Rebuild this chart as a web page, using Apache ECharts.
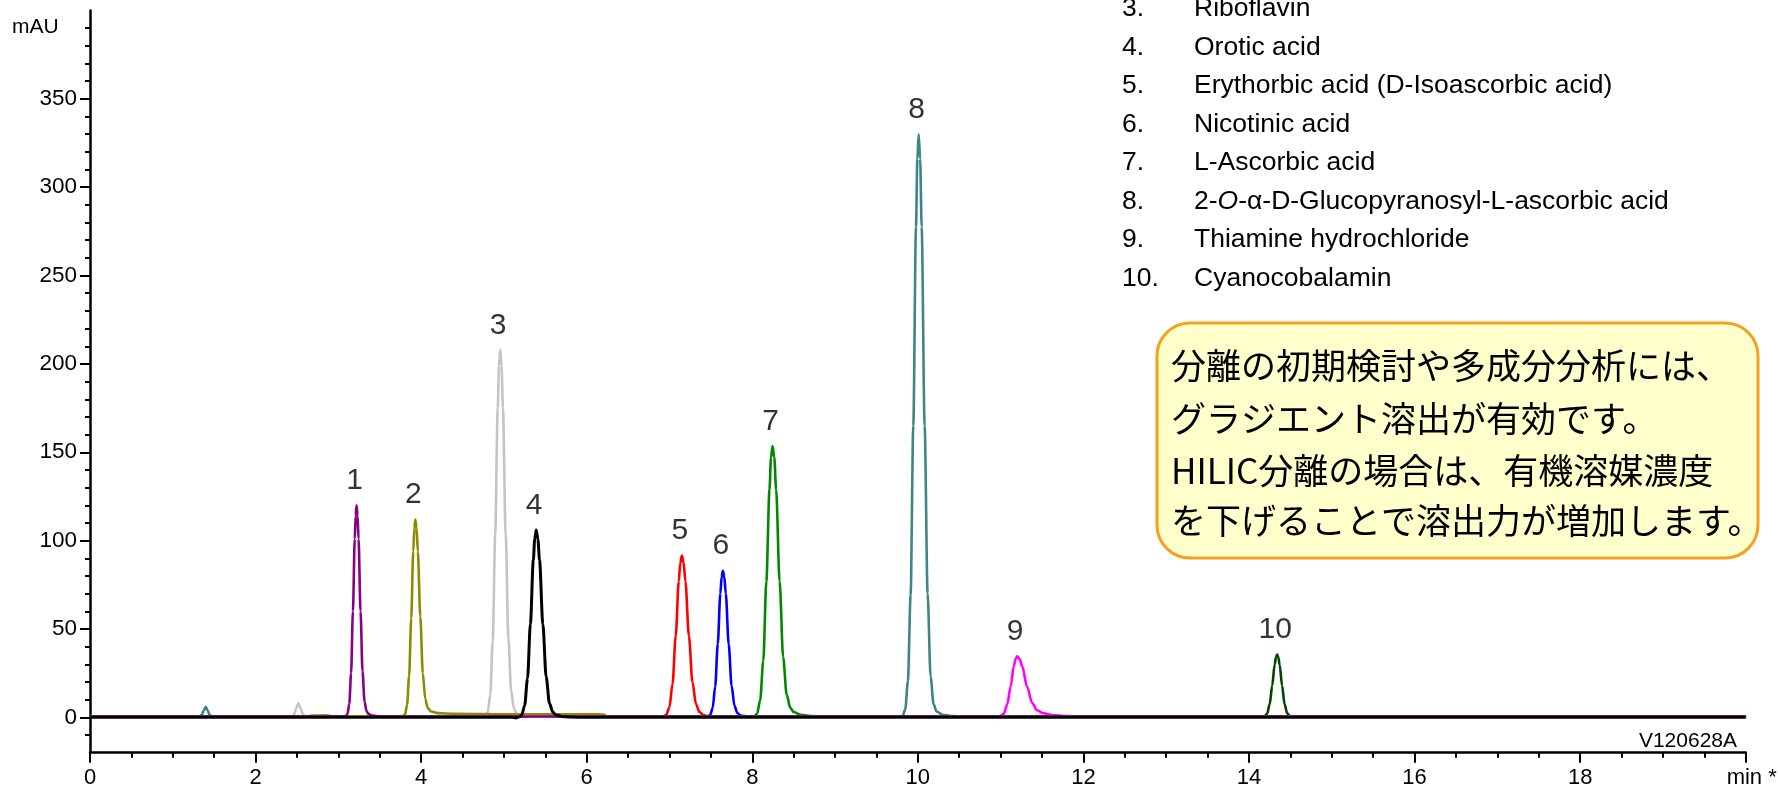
<!DOCTYPE html>
<html><head><meta charset="utf-8">
<script src="https://cdn.jsdelivr.net/npm/echarts@6/dist/echarts.min.js"></script>
<style>html,body{margin:0;padding:0;background:#fff}#c{width:1778px;height:785px}</style>
</head><body><div id="c"></div>
<script>
// ---------- data ----------
const xTicks = [0, 2, 4, 6, 8, 10, 12, 14, 16, 18, 20];
const yTickLabels = [0, 50, 100, 150, 200, 250, 300, 350];
const yMinorTicks = [-10, 10, 20, 30, 40, 60, 70, 80, 90, 110, 120, 130, 140, 160, 170, 180, 190, 210, 220, 230, 240, 260, 270, 280, 290, 310, 320, 330, 340, 360, 370, 380, 390];
const peakNumbers = ['1', '2', '3', '4', '5', '6', '7', '8', '9', '10'];
const peakTimes = [3.22, 3.93, 4.955, 5.39, 7.15, 7.645, 8.245, 10.01, 11.2, 14.34];
const peakHeights = [120, 112, 208, 106, 91.5, 83, 153.5, 330, 34.5, 35.5];
const compoundNumbers = ['3.', '4.', '5.', '6.', '7.', '8.', '9.', '10.'];
const compoundNames = ['Riboflavin', 'Orotic acid', 'Erythorbic acid (D-Isoascorbic acid)', 'Nicotinic acid', 'L-Ascorbic acid', '2-{i|O}-α-D-Glucopyranosyl-L-ascorbic acid', 'Thiamine hydrochloride', 'Cyanocobalamin'];
const noteLines = ['分離の初期検討や多成分分析には、', 'グラジエント溶出が有効です。', 'HILIC分離の場合は、有機溶媒濃度', 'を下げることで溶出力が増加します。'];
const sampleId = 'V120628A';

const trace1 = [[0,0.4],[3.066,0.4],[3.088,0.7],[3.11,1.9],[3.132,7.5],[3.154,25],[3.176,60],[3.198,101],[3.209,114],[3.22,120],[3.232,114],[3.244,101],[3.268,60],[3.292,26],[3.316,9],[3.34,3.6],[3.364,1.9],[3.412,1],[3.51,0.5],[20,0.4]];
const trace2 = [[0,0.4],[2.6,0.4],[2.7,1],[2.85,1.1],[2.95,0.5],[3.7,0.5],[3.78,0.8],[3.805,1.6],[3.83,7],[3.855,23.5],[3.88,56],[3.905,94],[3.9175,107],[3.93,112],[3.945,107],[3.96,94],[3.99,57],[4.02,25],[4.05,10.5],[4.08,5.2],[4.12,3.3],[4.2,2.4],[4.4,2],[5,1.8],[6.1,1.8],[6.2,1.6],[6.25,0.4],[20,0.4]];
const trace3 = [[0,0.4],[2.44,0.5],[2.47,2],[2.49,5],[2.517,7.9],[2.545,5],[2.57,2],[2.6,0.5],[4.745,0.4],[4.775,0.8],[4.805,2.8],[4.835,13],[4.865,43.7],[4.895,104],[4.925,175],[4.94,199],[4.955,208],[4.971,199],[4.988,175],[5.021,104],[5.054,45],[5.087,15],[5.12,5],[5.153,2],[5.2,1],[5.3,0.5],[20,0.4]];
const trace4 = [[0,0],[5.1,0],[5.145,-0.3],[5.18,0.2],[5.215,1.4],[5.25,6.6],[5.285,22],[5.32,53],[5.355,89],[5.372,101],[5.39,106],[5.41,101],[5.43,89],[5.47,53],[5.51,23],[5.55,8],[5.59,3],[5.63,1.3],[5.7,0.5],[5.8,0.2],[6,0],[20,0]];
const trace5 = [[0,0.4],[6.89,0.4],[6.925,0.6],[6.96,1.4],[6.999,5.7],[7.037,19],[7.075,46],[7.112,77],[7.13,87.5],[7.15,91.5],[7.171,87.5],[7.192,77],[7.235,46],[7.277,20],[7.32,7.5],[7.362,3],[7.405,1.5],[7.45,0.8],[7.55,0.4],[20,0.4]];
const trace6 = [[0,0.4],[7.43,0.4],[7.459,0.5],[7.49,1.2],[7.521,5.2],[7.552,17.4],[7.583,41.5],[7.614,70],[7.63,79.5],[7.645,83],[7.662,79.5],[7.68,70],[7.715,41.5],[7.75,18],[7.785,6.5],[7.82,2.5],[7.86,1],[7.95,0.4],[20,0.4]];
const trace7 = [[0,0.4],[7.98,0.4],[8.02,0.6],[8.058,2],[8.095,9.6],[8.133,32],[8.17,77],[8.208,129],[8.226,147],[8.245,153.5],[8.266,147],[8.288,129],[8.33,77],[8.373,34],[8.415,13],[8.458,5.5],[8.5,3],[8.58,1.5],[8.7,0.8],[8.9,0.4],[20,0.4]];
const trace8 = [[0,0.4],[1.32,0.4],[1.35,1.4],[1.375,4],[1.398,6],[1.42,4],[1.445,1.4],[1.475,0.4],[9.7825,0.4],[9.815,0.8],[9.8475,4.4],[9.88,20.6],[9.9125,69],[9.945,165],[9.9775,277.5],[9.994,316],[10.01,330],[10.028,316],[10.046,277.5],[10.082,165],[10.118,70],[10.154,23],[10.19,7.5],[10.226,3.3],[10.3,1.5],[10.4,0.8],[10.6,0.4],[20,0.4]];
const trace9 = [[0,0.4],[10.92,0.4],[10.96,0.5],[11,0.9],[11.04,2.2],[11.08,7.3],[11.12,17.3],[11.16,29],[11.18,33],[11.2,34.5],[11.23,33],[11.26,29],[11.32,17.3],[11.38,8.3],[11.44,4],[11.52,2.3],[11.62,1.3],[11.8,0.7],[12,0.4],[20,0.4]];
const trace10 = [[0,0.4],[14.13,0.4],[14.19,0.6],[14.22,2.2],[14.25,7.5],[14.28,17.8],[14.31,29.9],[14.325,33.8],[14.34,35.5],[14.355,33.8],[14.37,29.9],[14.4,17.8],[14.43,7.5],[14.46,2.4],[14.49,0.8],[14.52,0.4],[20,0.4]];

// ---------- styling ----------
const LATIN = '"Liberation Sans", Arial, sans-serif';
const CJK = '"Noto Sans CJK JP", sans-serif';
const traces = [
  { data: trace10, color: '#004400' },
  { data: trace9, color: '#ff00ff' },
  { data: trace8, color: '#3f8585' },
  { data: trace7, color: '#008800' },
  { data: trace6, color: '#0000ff' },
  { data: trace5, color: '#ff0000' },
  { data: trace3, color: '#c4c4c4' },
  { data: trace2, color: '#8c8c00' },
  { data: trace1, color: '#880088' },
  { data: trace4, color: '#000000', width: 3 }
];

const series = traces.map(t => ({
  type: 'line', data: t.data, symbol: 'none', smooth: 0.3, smoothMonotone: 'x',
  lineStyle: { color: t.color, width: t.width || 2.6 }, silent: true, animation: false
}));
series.push({
  type: 'scatter', symbolSize: 1, itemStyle: { color: 'transparent' }, silent: true,
  data: peakTimes.map((t, i) => ({ value: [t, peakHeights[i]], name: peakNumbers[i] })),
  label: { show: true, position: 'top', distance: 9, offset: [-2, 0], formatter: '{b}',
           fontSize: 30, fontFamily: LATIN, color: '#000' },
  z: 5
});

const graphic = [
  { type: 'text', x: 12, y: 27, style: { text: 'mAU', font: '21px ' + LATIN, fill: '#000', align: 'left', verticalAlign: 'middle', textAlign: 'left', textVerticalAlign: 'middle' } },
  { type: 'text', x: 1737, y: 741, style: { text: sampleId, font: '21px ' + LATIN, fill: '#000', align: 'right', verticalAlign: 'middle', textAlign: 'right', textVerticalAlign: 'middle' } },
  { type: 'rect', shape: { x: 1157, y: 323, width: 601, height: 235, r: 33 }, style: { fill: '#ffffcc', stroke: '#f6a11c', lineWidth: 3 }, z: 10 }
];
compoundNumbers.forEach((n, i) => {
  const y = 9 + 38.5 * i;
  graphic.push({ type: 'text', x: 1122, y: y, z: 10, style: { text: n, fontSize: 26.5, fontFamily: LATIN, fill: '#000', align: 'left', verticalAlign: 'middle', textAlign: 'left', textVerticalAlign: 'middle' } });
  graphic.push({ type: 'text', x: 1194, y: y, z: 10, style: { text: compoundNames[i], fontSize: 26.5, fontFamily: LATIN, fill: '#000', align: 'left', verticalAlign: 'middle', textAlign: 'left', textVerticalAlign: 'middle',
    rich: { i: { fontStyle: 'italic', fontSize: 26.5, fontFamily: LATIN, fill: '#000', color: '#000' } } } });
});
noteLines.forEach((s, i) => {
  graphic.push({ type: 'text', x: 1171, y: [366, 418.5, 471, 521][i], z: 11, style: { text: s, font: '35px ' + CJK, fill: '#000', align: 'left', verticalAlign: 'middle', textAlign: 'left', textVerticalAlign: 'middle' } });
});

const chart = echarts.init(document.getElementById('c'), null, { renderer: 'canvas' });
chart.setOption({
  animation: false,
  backgroundColor: '#fff',
  grid: { left: 90, right: 32.3, top: 10.5, bottom: 32.3, containLabel: false, outerBoundsMode: 'none' },
  xAxis: {
    type: 'value', min: 0, max: 20, interval: 2,
    axisLine: { show: true, onZero: false, lineStyle: { color: '#000', width: 2.5 } },
    axisTick: { show: true, length: 10, lineStyle: { color: '#000', width: 2 } },
    minorTick: { show: true, splitNumber: 4, length: 5, lineStyle: { color: '#000', width: 2 } },
    axisLabel: { fontSize: 22, fontFamily: LATIN, color: '#000', margin: 14,
      formatter: v => (v === xTicks[xTicks.length - 1] ? '{m|min *}' : String(v)),
      rich: { m: { fontSize: 22, fontFamily: LATIN, color: '#000', padding: [0, 0, 0, 12] } } },
    splitLine: { show: false }, minorSplitLine: { show: false }
  },
  yAxis: [
    { type: 'value', min: -20, max: 400,
      axisLine: { show: true, onZero: false, lineStyle: { color: '#000', width: 2.5 } },
      axisTick: { show: true, length: 10, customValues: yTickLabels, lineStyle: { color: '#000', width: 2 } },
      axisLabel: { show: true, customValues: yTickLabels, fontSize: 22.5, fontFamily: LATIN, color: '#000', margin: 13, padding: [9, 0, 0, 0] },
      splitLine: { show: false } },
    { type: 'value', min: -20, max: 400, position: 'left',
      axisLine: { show: false, onZero: false },
      axisTick: { show: true, length: 5, customValues: yMinorTicks, lineStyle: { color: '#000', width: 2 } },
      axisLabel: { show: false },
      splitLine: { show: false } }
  ],
  series: series,
  graphic: graphic
});
</script></body></html>
